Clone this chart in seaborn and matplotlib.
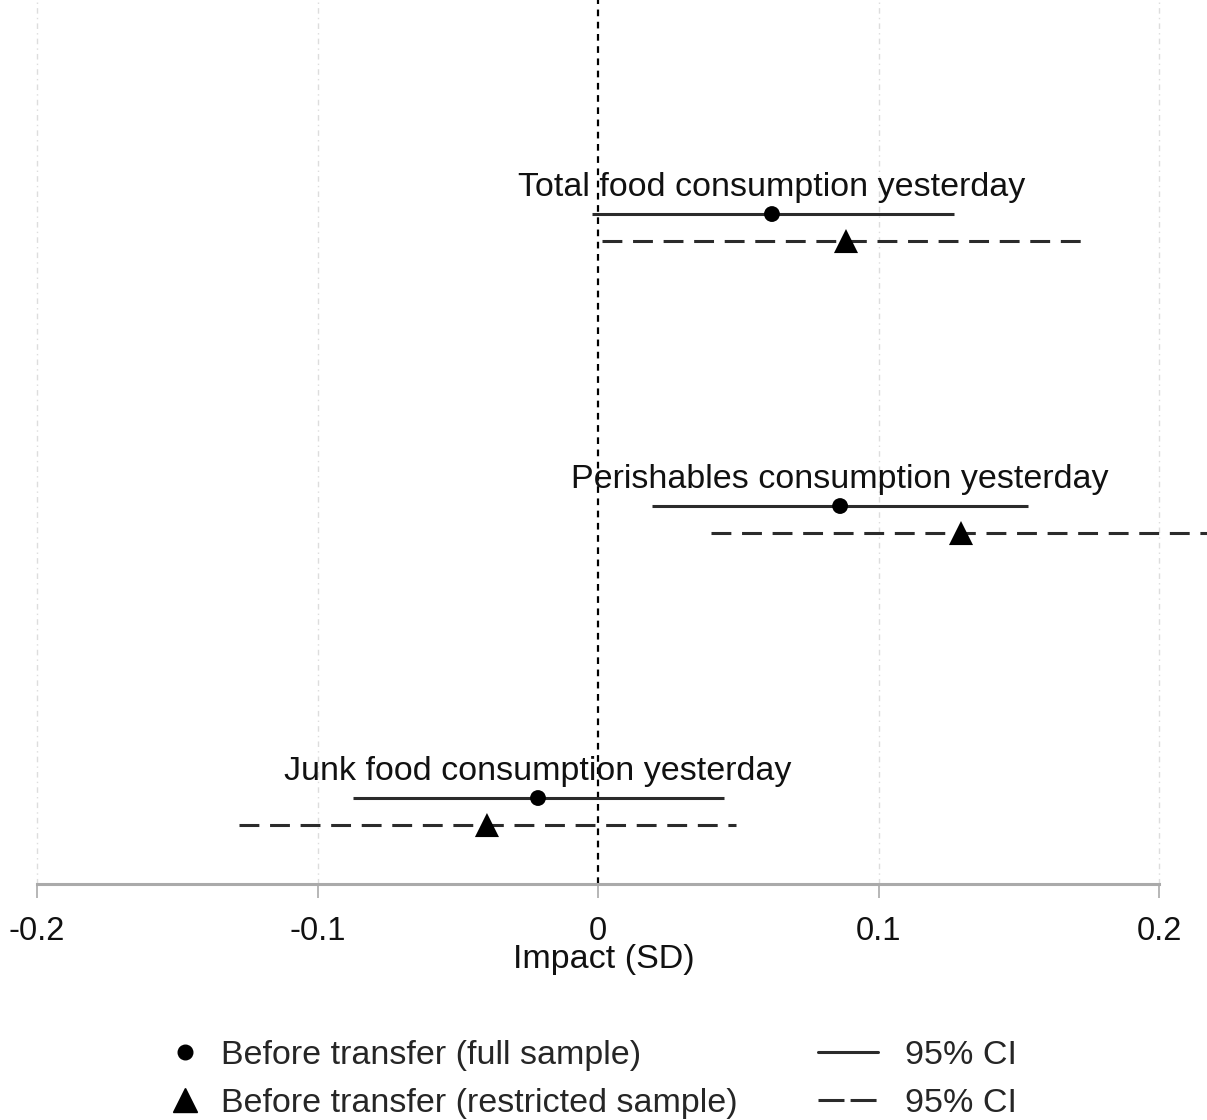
import numpy as np
import pandas as pd
import matplotlib
matplotlib.use("Agg")
import matplotlib.pyplot as plt
import seaborn as sns
from matplotlib.lines import Line2D

# outcomes, top to bottom
outcomes = ["Total food consumption yesterday",
            "Perishables consumption yesterday",
            "Junk food consumption yesterday"]

# before transfer, full sample
full_est = [0.062, 0.0863, -0.0214]
full_lo = [-0.002, 0.0193, -0.0873]
full_hi = [0.127, 0.1533, 0.0449]

# before transfer, restricted sample
restr_est = [0.0884, 0.1294, -0.0396]
restr_lo = [0.0014, 0.0403, -0.128]
restr_hi = [0.1747, 0.222, 0.0492]

xticks = [-0.2, -0.1, 0, 0.1, 0.2]
xtick_labels = ["-0.2", "-0.1", "0", "0.1", "0.2"]

sns.set_style("white")
plt.rcParams["font.family"] = ["Liberation Sans", "DejaVu Sans"]

ypos = np.arange(len(outcomes))
off = 0.0925
fs = 24.5

df = pd.DataFrame({
    "est": full_est + restr_est,
    "lo": full_lo + restr_lo,
    "hi": full_hi + restr_hi,
    "y": list(ypos) + list(ypos + off),
    "sample": ["full"] * 3 + ["restricted"] * 3,
})

fig = plt.figure(figsize=(12.07, 11.2), dpi=100)
ax = fig.add_axes([0, 0.2107, 1, 0.7893])

for x in xticks:
    if x != 0:
        ax.axvline(x, color="#dddddd", lw=1.0, ls=(0, (4, 3, 1, 3)), zorder=0)
ax.axvline(0, color="black", lw=1.6, ls=(0, (3, 2.5)), zorder=1)

line_col = "#2b2b2b"
dash = (0, (6.5, 3.5))
full = df[df["sample"] == "full"]
restr = df[df["sample"] == "restricted"]
ax.hlines(full["y"], full["lo"], full["hi"], color=line_col, lw=2.2, zorder=2)
ax.hlines(restr["y"], restr["lo"], restr["hi"], color=line_col, lw=2.2,
          linestyles=[dash], zorder=2)

sns.scatterplot(data=df, x="est", y="y", style="sample",
                markers={"full": "o", "restricted": "^"},
                size="sample", sizes={"full": 130, "restricted": 300},
                color="black", edgecolor="black", linewidth=0,
                legend=False, ax=ax, zorder=3)

for y, x, name in zip(ypos, full_est, outcomes):
    ax.text(x, y - off, name, ha="center", va="center", fontsize=fs, color="#111111")

ax.set_xlim(-0.2132, 0.2171)
ax.set_ylim(2.2945, -0.733)
ax.set_yticks([])
ax.set_ylabel("")
for s in ["top", "left", "right"]:
    ax.spines[s].set_visible(False)
ax.spines["bottom"].set_bounds(-0.2, 0.2)
ax.spines["bottom"].set_color("#aaaaaa")
ax.spines["bottom"].set_linewidth(2.2)
ax.set_xticks(xticks)
ax.set_xticklabels(xtick_labels, fontsize=23.5, color="#111111")
ax.tick_params(axis="x", direction="out", length=10, width=1.2, color="#aaaaaa", pad=13, bottom=True)
ax.set_xlabel("Impact (SD)", fontsize=fs, color="#111111", labelpad=-2)

# legend: markers on the left, CI lines on the right
marker_handles = [
    Line2D([], [], ls="none", marker="o", color="black", markersize=10.5),
    Line2D([], [], ls="none", marker="^", color="black", markersize=17),
]
marker_labels = ["Before transfer (full sample)", "Before transfer (restricted sample)"]
line_handles = [
    Line2D([], [], color=line_col, lw=2.2),
    Line2D([], [], color=line_col, lw=2.2, ls=(0, (8.5, 2))),
]
line_labels = ["95% CI", "95% CI"]

leg1 = fig.legend(marker_handles, marker_labels, loc="center left",
                  bbox_to_anchor=(0.1392, 0.0366), frameon=False, fontsize=fs,
                  handlelength=1.0, handletextpad=0.56, labelspacing=0.5,
                  borderpad=0, borderaxespad=0)
leg2 = fig.legend(line_handles, line_labels, loc="center left",
                  bbox_to_anchor=(0.6777, 0.0366), frameon=False, fontsize=fs,
                  handlelength=1.76, handletextpad=0.8, labelspacing=0.5,
                  borderpad=0, borderaxespad=0)

fig.savefig("out.png", dpi=100)
